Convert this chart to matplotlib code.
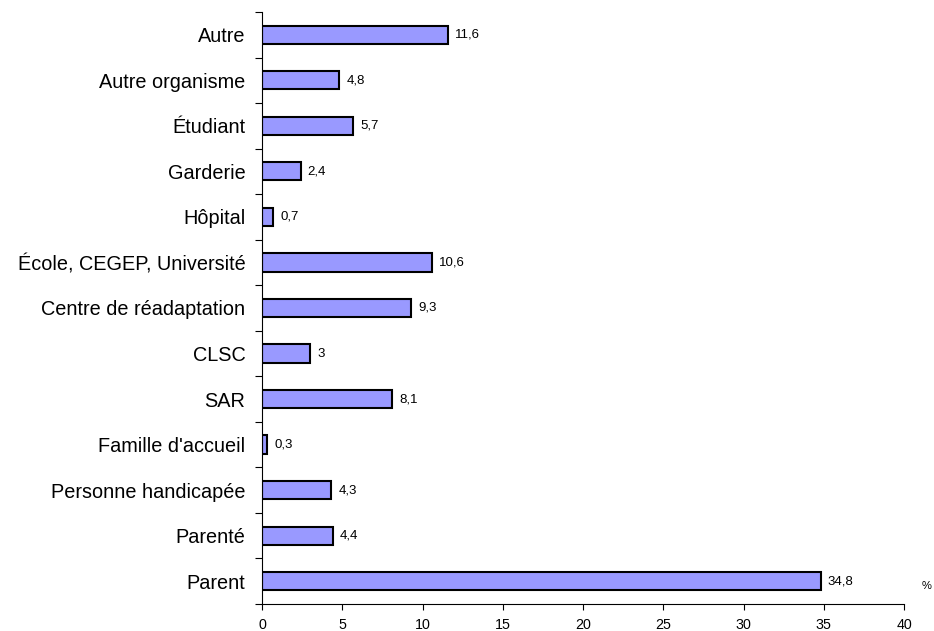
import matplotlib
matplotlib.use("Agg")
import numpy as np
import matplotlib.pyplot as plt

plt.rcParams["font.family"] = ["Liberation Sans", "DejaVu Sans"]

# ── Data (bottom to top) ──────────────────────────────────────────────────
categories = ["Parent", "Parenté", "Personne handicapée", "Famille d'accueil",
              "SAR", "CLSC", "Centre de réadaptation", "École, CEGEP, Université",
              "Hôpital", "Garderie", "Étudiant", "Autre organisme", "Autre"]
values = [34.8, 4.4, 4.3, 0.3, 8.1, 3, 9.3, 10.6, 0.7, 2.4, 5.7, 4.8, 11.6]
value_labels = ["34,8", "4,4", "4,3", "0,3", "8,1", "3", "9,3", "10,6",
                "0,7", "2,4", "5,7", "4,8", "11,6"]

# ── Figure ─────────────────────────────────────────────────────────────────
fig = plt.figure(figsize=(9.34, 6.31), dpi=100)
ax = fig.add_axes([0.2805, 0.0428, 0.6875, 0.9382])

y = np.arange(len(categories))
ax.barh(y, values, height=0.4, color="#9999FF", edgecolor="black", linewidth=1.5)

for yi, v, lab in zip(y, values, value_labels):
    ax.text(v + 0.45, yi, lab, va="center", ha="left", fontsize=9.5)

ax.set_xlim(0, 40)
ax.set_ylim(-0.5, len(categories) - 0.5)
ax.set_xticks(range(0, 41, 5))
ax.tick_params(axis="x", labelsize=10.3, length=4, width=0.8, pad=6)

ax.set_yticks(y)
ax.set_yticklabels(categories, fontsize=14.3)
ax.tick_params(axis="y", which="major", length=0, pad=12)
ax.set_yticks(np.arange(-0.5, len(categories), 1), minor=True)
ax.tick_params(axis="y", which="minor", length=5, width=0.8)

for side in ["top", "right"]:
    ax.spines[side].set_visible(False)
for side in ["left", "bottom"]:
    ax.spines[side].set_linewidth(0.8)

fig.text(0.992, 0.066, "%", fontsize=8, ha="center")

plt.savefig("out.png", dpi=100)
